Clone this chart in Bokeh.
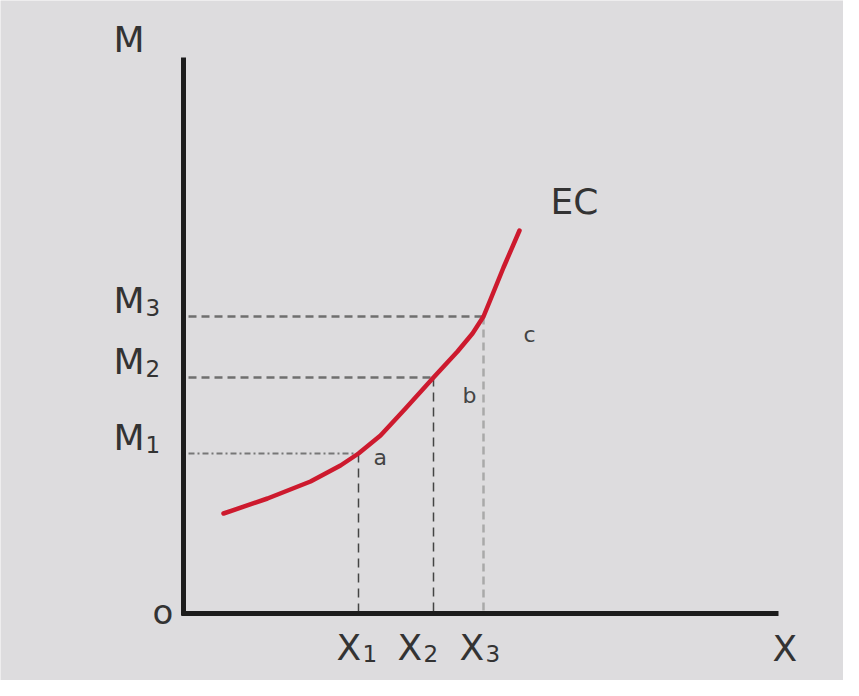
import re
from bokeh.plotting import figure
from bokeh.models import Range1d
from bokeh.core.properties import value
from bokeh.embed import file_html
from bokeh.resources import INLINE

# ---- data (abstract units) ----
x_levels = [175, 250, 300]          # X1, X2, X3
m_levels = [160, 236, 297]          # M1, M2, M3
x_subs = ["1", "2", "3"]
m_subs = ["1", "2", "3"]
point_labels = ["a", "b", "c"]

curve_x = [40, 84, 127, 157, 175, 197, 222, 250, 274, 289, 300, 307, 320, 336]
curve_y = [100, 115, 132, 148, 160, 178, 205, 236, 262, 280, 297, 314, 346, 383]

# layout nudges (pixels)
x_label_nudge = [0, -14, -2]
pt_label_dx = [15, 29, 40]
pt_label_dy = [-15, -29, -29]

BG = "#dddcde"
TXT = "#333333"
FONT = value("DejaVu Sans")
DY = 11  # text baseline correction

p = figure(width=843, height=680, output_backend="svg", toolbar_location=None,
           x_range=Range1d(-183, 660), y_range=Range1d(-67, 613),
           min_border=0, background_fill_color=BG, border_fill_color=BG,
           outline_line_color=None)
p.axis.visible = False
p.grid.visible = False

# guide lines
p.segment(x0=[5, 5], y0=m_levels[1:], x1=x_levels[1:], y1=m_levels[1:],
          line_color="#6f6f6f", line_width=2.5, line_dash="8 5")
p.segment(x0=[5], y0=[m_levels[0]], x1=[x_levels[0]], y1=[m_levels[0]],
          line_color="#777777", line_width=2, line_dash="6 3 2 3")
p.segment(x0=x_levels[:2], y0=m_levels[:2], x1=x_levels[:2], y1=[2, 2],
          line_color="#444444", line_width=1.5, line_dash="9 6")
p.segment(x0=[x_levels[2]], y0=[m_levels[2]], x1=[x_levels[2]], y1=[2],
          line_color="#a9a9a9", line_width=2.5, line_dash="8 5")

# axes
p.segment(x0=[0, -2], y0=[556, 0], x1=[0, 595], y1=[-2, 0],
          line_color="#1c1c1c", line_width=5)

# EC curve
p.line(curve_x, curve_y, line_color="#cd1a2e", line_width=4.5,
       line_join="round", line_cap="round")

def txt(xs, ys, labels, size, color=TXT):
    p.text(x=xs, y=[y + DY for y in ys], text=labels, text_font=FONT,
           text_font_size=size, text_color=color, text_align="left",
           text_baseline="alphabetic")

# axis titles and origin
txt([-70], [563], ["M"], "36px")
txt([589], [-46], ["X"], "36px")
txt([-31], [-9], ["o"], "34px")
txt([367], [401], ["EC"], "36px")

# M tick labels
txt([-70] * 3, [m + 5 for m in m_levels], ["M"] * 3, "36px")
txt([-38] * 3, [m - 2 for m in m_levels], m_subs, "23px")

# X tick labels
txt([v - 22 + n for v, n in zip(x_levels, x_label_nudge)], [-45] * 3, ["X"] * 3, "36px")
txt([v + 4 + n for v, n in zip(x_levels, x_label_nudge)], [-51] * 3, x_subs, "23px")

# point labels a, b, c
txt([v + d for v, d in zip(x_levels, pt_label_dx)],
    [m + d for m, d in zip(m_levels, pt_label_dy)],
    point_labels, "22px", "#444444")

html = file_html(p, INLINE)
html = re.sub(r"<body([^>]*)>", r'<body\1 style="background-color:%s;">' % BG, html, count=1)
open("out.html", "w").write(html)
